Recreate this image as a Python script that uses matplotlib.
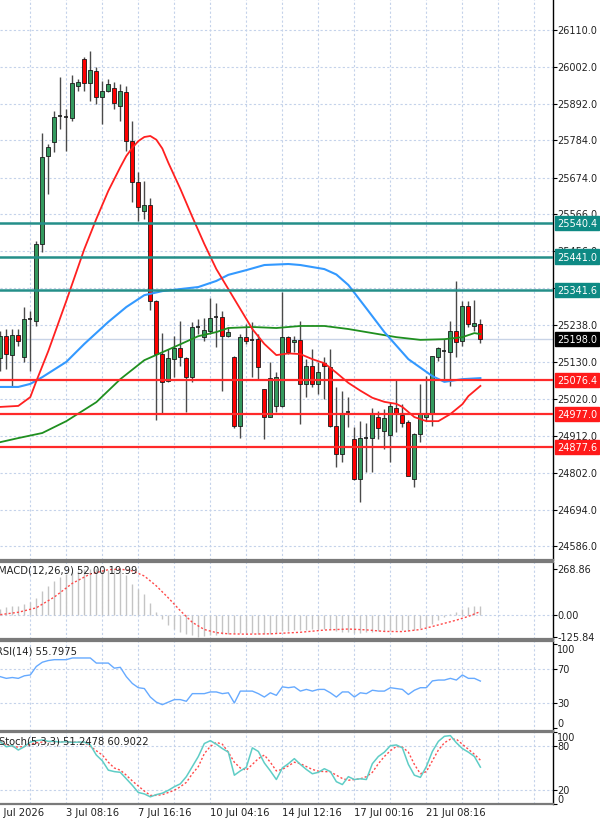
import matplotlib
matplotlib.use('Agg')
import matplotlib.pyplot as plt
import matplotlib.transforms as mtrans
import numpy as np

# candles (H4-ish bars)
opens = [25140, 25205, 25150, 25210, 25143, 25255, 25252, 25478, 25737, 25778,
         25854, 25855, 25850, 25945, 26024, 25952, 25988, 25911, 25931, 25938,
         25887, 25926, 25783, 25660, 25576, 25593, 25309, 25153, 25073, 25138,
         25171, 25141, 25084, 25232, 25202, 25222, 25261, 25263, 25206, 25143,
         24940, 25204, 25197, 25197, 25050, 24968, 25001, 25001, 25202, 25188,
         25196, 25065, 25119, 25066, 25126, 25116, 24942, 24858, 24981, 24902,
         24784, 24903, 24905, 24968, 24925, 24915, 24995, 24972, 24952, 24785,
         24918, 24967, 24976, 25144, 25161, 25159, 25221, 25192, 25295, 25236,
         25242]
highs = [25222, 25227, 25227, 25227, 25291, 25281, 25488, 25805, 25773, 25872,
         25970, 25877, 25978, 25965, 26029, 26049, 26000, 25960, 25965, 25955,
         25950, 25946, 25842, 25690, 25665, 25613, 25312, 25214, 25168, 25207,
         25252, 25143, 25247, 25256, 25261, 25318, 25303, 25281, 25232, 25148,
         25212, 25242, 25247, 25212, 25050, 25129, 25099, 25335, 25207, 25207,
         25252, 25138, 25168, 25129, 25143, 25168, 25055, 25045, 25025, 24937,
         24956, 24950, 24995, 24985, 24991, 25013, 25079, 25007, 24958, 24920,
         25065, 25088, 25148, 25173, 25198, 25250, 25370, 25311, 25311, 25313,
         25257]
lows = [25104, 25109, 25055, 25178, 25129, 25104, 25237, 25453, 25626, 25749,
        25818, 25754, 25842, 25931, 25931, 25901, 25891, 25832, 25926, 25877,
        25842, 25754, 25601, 25547, 25552, 25283, 24958, 24978, 25070, 25084,
        25119, 24981, 25070, 25212, 25193, 25212, 25173, 25045, 25202, 24935,
        24905, 25183, 25086, 25079, 24902, 24966, 24981, 24996, 25153, 25158,
        24947, 25025, 25055, 25035, 25020, 24937, 24819, 24833, 24937, 24780,
        24715, 24804, 24804, 24902, 24873, 24833, 24922, 24937, 24799, 24762,
        24892, 24956, 24942, 25133, 25076, 25060, 25143, 25178, 25232, 25222,
        25185]
closes = [25207, 25153, 25210, 25193, 25256, 25257, 25478, 25736, 25765, 25852,
          25856, 25852, 25952, 25955, 25952, 25992, 25911, 25929, 25951, 25893,
          25929, 25783, 25660, 25586, 25593, 25309, 25153, 25070, 25141, 25171,
          25143, 25084, 25232, 25233, 25224, 25261, 25262, 25206, 25218, 24940,
          25204, 25193, 25195, 25116, 24968, 25081, 25084, 25202, 25158, 25196,
          25065, 25119, 25065, 25099, 25119, 24942, 24858, 24978, 24982, 24784,
          24905, 24905, 24975, 24935, 24965, 25000, 24975, 24950, 24792, 24918,
          24975, 24977, 25147, 25171, 25162, 25221, 25190, 25295, 25242, 25245,
          25198]

# moving averages (bar index, price)
ma_red_idx = [0, 3, 5, 6, 8, 11, 14, 16, 18, 20, 21, 22, 23, 24, 25, 26, 27, 28, 30, 32,
              34, 36, 38, 40, 42, 44, 46, 48, 50, 52, 54, 56, 58, 60, 62, 64, 66, 67, 69,
              71, 73, 75, 77, 78, 80]
ma_red = [24997, 25000, 25026, 25073, 25162, 25310, 25463, 25552, 25635, 25705, 25738,
          25762, 25782, 25794, 25797, 25786, 25760, 25718, 25641, 25558, 25478, 25404,
          25345, 25286, 25227, 25183, 25150, 25155, 25153, 25138, 25126, 25098, 25068,
          25045, 25024, 25012, 25006, 24997, 24967, 24955, 24955, 24976, 25005, 25029,
          25059]
ma_blue_idx = [0, 3, 5, 7, 11, 14, 18, 21, 24, 27, 30, 33, 36, 38, 41, 44, 48, 50, 54, 56,
               58, 60, 61, 64, 68, 72, 74, 77, 80]
ma_blue = [25056, 25056, 25065, 25085, 25130, 25183, 25248, 25292, 25327, 25339, 25345,
           25351, 25369, 25387, 25401, 25416, 25419, 25416, 25404, 25388, 25357, 25311,
           25288, 25218, 25138, 25088, 25071, 25079, 25082]
ma_green_idx = [0, 3, 7, 11, 16, 20, 24, 29, 33, 36, 38, 42, 46, 50, 54, 58, 62, 66, 70,
                74, 77, 79, 80]
ma_green = [24893, 24905, 24920, 24955, 25011, 25079, 25135, 25174, 25206, 25218, 25230,
            25233, 25230, 25236, 25236, 25227, 25215, 25203, 25195, 25197, 25203, 25215,
            25212]

levels_teal = [25540.4, 25441.0, 25341.6]
levels_red = [25076.4, 24977.0, 24877.6]
last_price = 25198.0
price_ticks = [26110, 26002, 25892, 25784, 25674, 25566, 25456, 25348, 25238, 25130,
               25020, 24912, 24802, 24694, 24586]

macd_hist = [35, 45, 51, 55, 64, 74, 99, 138, 169, 200, 220, 240, 249, 259, 268.86, 268,
             267, 265, 263, 263, 255, 236, 181, 152, 123, 68, 16, -23, -56, -82, -101, -111,
             -118, -125.84, -122, -118, -115, -112, -110, -108, -104, -106, -108, -110, -112,
             -110, -106, -96, -92, -90, -88, -86, -84, -82, -80, -84, -92, -98, -100, -104,
             -106, -102, -98, -96, -94, -92, -88, -86, -92, -90, -78, -70, -50, -30, -12, 5,
             15, 35, 48, 55, 52]
macd_sig_idx = [0, 3, 6, 9, 12, 15, 18, 20, 22, 24, 26, 28, 30, 32, 34, 36, 38, 41, 45,
                50, 54, 58, 61, 64, 67, 70, 73, 76, 78, 80]
macd_sig = [2, 16, 42, 105, 185, 240, 265, 268, 258, 228, 170, 100, 25, -43, -85, -103,
            -110, -112, -110, -101, -88, -82, -87, -96, -97, -85, -58, -30, -8, 19.99]

rsi = [61, 59, 60, 59, 62, 63, 73, 78, 80, 81, 81, 81, 83, 83, 83, 83, 77, 77, 77, 71,
       72, 61, 53, 48, 47, 37, 31, 28, 31, 34, 34, 32, 41, 41, 41, 43, 43, 41, 42, 30,
       44, 44, 44, 41, 37, 42, 39, 49, 48, 49, 44, 46, 44, 46, 46, 42, 37, 43, 43, 37,
       42, 41, 45, 44, 44, 48, 47, 46, 40, 45, 48, 48, 56, 57, 57, 59, 57, 63, 59, 59,
       55.8]

stoch_k = [86.5, 79.5, 81, 75, 79.5, 86, 88, 89, 87, 87, 86, 86.5, 85.6, 86, 86, 82, 68,
           60, 47, 45, 44, 35, 26, 16, 14, 10, 13, 15, 19, 24, 28, 38, 52, 66, 84, 88, 83,
           77, 72, 40, 46, 51, 78, 73, 57, 46, 34, 50, 56, 63, 55, 48, 42, 44, 49, 45, 31,
           27, 38, 34, 35, 34, 56, 66, 72, 81, 82, 78, 55, 40, 37, 52, 73, 87, 94, 95, 85,
           77, 72, 66, 51.2]
stoch_d = [86.5, 82, 80, 79, 80, 83, 85, 86, 86.5, 86.5, 86.5, 86.5, 86, 86, 85.5, 80,
           74, 68, 58, 50, 47, 40, 32, 25, 18, 12, 12, 13, 16, 19, 24, 30, 42, 52, 70, 80,
           85.6, 83, 72, 58, 50, 47, 55, 63, 68, 58, 46, 48, 53, 58, 56, 52, 48, 45.6, 45,
           44.7, 40, 35.4, 33, 34, 35, 38, 44, 56, 66, 74, 80, 79, 72, 55, 42, 45, 60, 75,
           85, 90, 90, 83, 76, 69, 60.9]

date_idx = [-1, 11, 23, 35, 47, 59, 71]
date_labels = ['1 Jul 2026', '3 Jul 08:16', '7 Jul 16:16', '10 Jul 04:16',
               '14 Jul 12:16', '17 Jul 00:16', '21 Jul 08:16']

W, H = 600, 820
fig = plt.figure(figsize=(6, 8.2), dpi=100)
fig.patch.set_facecolor('white')


def panel(top, bottom):
    return fig.add_axes([0, 1 - bottom / H, 553 / W, (bottom - top) / H])


ax = panel(0, 561)
ax_m = panel(563, 640)
ax_r = panel(642, 732)
ax_s = panel(733, 805)

grid_kw = dict(color='#c4d2ea', lw=0.8, ls=(0, (2, 2)), zorder=0)
vgrid = np.arange(5, 92, 6)
n = len(closes)
idx = np.arange(n)

for a in (ax, ax_m, ax_r, ax_s):
    a.set_xlim(-0.05, 92.1)
    for v in vgrid:
        a.axvline(v, **grid_kw)
    a.set_xticks([])
    a.spines['left'].set_visible(False)
    a.spines['right'].set_color('black')
    a.spines['right'].set_linewidth(1.0)
    for s in ('top', 'bottom'):
        a.spines[s].set_color('#7a7a7a')
        a.spines[s].set_linewidth(1.6)
    a.yaxis.tick_right()
    a.tick_params(axis='y', direction='out', length=3, width=0.8, labelright=False)
ax.spines['top'].set_visible(False)


def right_labels(a, vals, texts, vas=None):
    tr = mtrans.blended_transform_factory(a.transAxes, a.transData)
    a.set_yticks(vals)
    for k, (v, t) in enumerate(zip(vals, texts)):
        va = vas[k] if vas else 'center'
        a.text(1.0075, v, t, transform=tr, ha='left', va=va, fontsize=7,
               color='#222222', clip_on=False)


# price panel
ax.set_ylim(24545, 26201.5)
for p in price_ticks:
    ax.axhline(p, **grid_kw)
right_labels(ax, price_ticks, ['%.1f' % p for p in price_ticks])

ax.axhline(last_price, color='#c8d3e6', lw=1.0, zorder=1)

o = np.array(opens, float)
c = np.array(closes, float)
hi = np.array(highs, float)
lo = np.array(lows, float)
ax.vlines(idx, lo, hi, color='#4a4a4a', lw=1.0, zorder=2)
doji = np.abs(c - o) < 4
up = (c > o) & ~doji
dn = (c < o) & ~doji
ax.bar(idx[up], (c - o)[up], bottom=o[up], width=0.68, color='#349a5e',
       edgecolor='#1a1a1a', lw=0.6, zorder=3)
ax.bar(idx[dn], (o - c)[dn], bottom=c[dn], width=0.68, color='#ff0000',
       edgecolor='#1a1a1a', lw=0.6, zorder=3)
ax.hlines(c[doji], idx[doji] - 0.34, idx[doji] + 0.34, color='#1a1a1a', lw=1.2, zorder=3)

ax.plot(ma_green_idx, ma_green, color='#1f8f1f', lw=1.3, zorder=4)
ax.plot(ma_blue_idx, ma_blue, color='#3399ff', lw=1.5, zorder=4)
ax.plot(ma_red_idx, ma_red, color='#ff2020', lw=1.3, zorder=4)

tr = mtrans.blended_transform_factory(ax.transAxes, ax.transData)
for lv in levels_teal:
    ax.axhline(lv, color='#248f89', lw=1.8, zorder=5)
    ax.text(1.0075, lv, '%.1f' % lv, transform=tr, ha='left', va='center', fontsize=7,
            color='white', clip_on=False, zorder=6,
            bbox=dict(boxstyle='square,pad=0.22', fc='#0e8a84', ec='#0e8a84'))
for lv in levels_red:
    ax.axhline(lv, color='#ff2a2a', lw=1.6, zorder=5)
    ax.text(1.0075, lv, '%.1f' % lv, transform=tr, ha='left', va='center', fontsize=7,
            color='white', clip_on=False, zorder=6,
            bbox=dict(boxstyle='square,pad=0.22', fc='#ff1a1a', ec='#ff1a1a'))
ax.text(1.0075, last_price, '%.1f' % last_price, transform=tr, ha='left', va='center',
        fontsize=7, color='white', clip_on=False, zorder=6,
        bbox=dict(boxstyle='square,pad=0.22', fc='black', ec='black'))

# MACD
ax_m.set_ylim(-140.3, 309.8)
ax_m.axhline(0, **grid_kw)
ax_m.vlines(idx, 0, macd_hist, color='#c4c4c4', lw=1.0, zorder=2)
ax_m.plot(macd_sig_idx, macd_sig, color='#ff4a4a', lw=1.0, ls=(0, (1.5, 1.5)), zorder=3)
right_labels(ax_m, [268.86, 0, -125.84], ['268.86', '0.00', '-125.84'])

# RSI
ax_r.set_ylim(-3, 103)
for v in (70, 30):
    ax_r.axhline(v, **grid_kw)
ax_r.plot(idx, rsi, color='#66aaff', lw=1.0, zorder=3)
right_labels(ax_r, [100, 70, 30, 0], ['100', '70', '30', '0'],
             ['top', 'center', 'center', 'bottom'])

# Stochastic
ax_s.set_ylim(0, 100)
for v in (80, 20):
    ax_s.axhline(v, **grid_kw)
ax_s.plot(idx, stoch_d, color='#ff4a4a', lw=1.0, ls=(0, (1.5, 1.5)), zorder=3)
ax_s.plot(idx, stoch_k, color='#5fcdc6', lw=1.1, zorder=4)
right_labels(ax_s, [100, 80, 20, 0], ['100', '80', '20', '0'],
             ['top', 'center', 'center', 'bottom'])

trx = mtrans.blended_transform_factory(ax_s.transData, ax_s.transAxes)
for i, lab in zip(date_idx, date_labels):
    ax_s.text(i, -0.04, lab, transform=trx, ha='left', va='top', fontsize=7.2,
              color='#222222', clip_on=False)

# indicator captions
fig.text(-2 / W, 1 - 571 / H, 'MACD(12,26,9) 52.00 19.99', fontsize=7.2, va='center',
         ha='left', color='#222222')
fig.text(-4 / W, 1 - 651 / H, 'RSI(14) 55.7975', fontsize=7.2, va='center', ha='left',
         color='#222222')
fig.text(-1 / W, 1 - 742 / H, 'Stoch(5,3,3) 51.2478 60.9022', fontsize=7.2, va='center',
         ha='left', color='#222222')

fig.savefig('out.png', dpi=100)
